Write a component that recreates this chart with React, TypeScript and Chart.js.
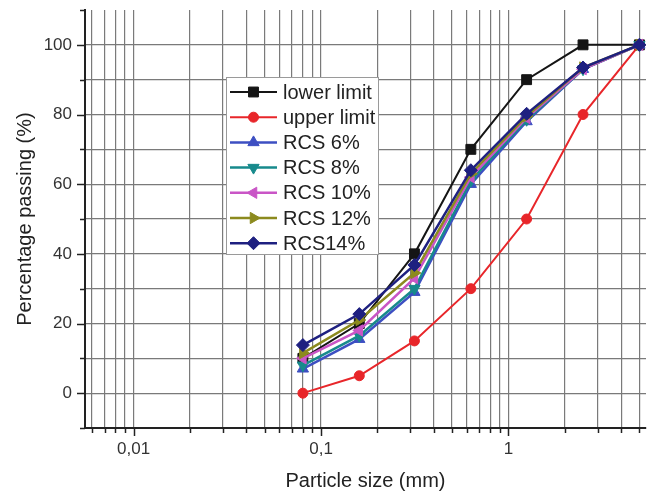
import React, { useEffect, useRef } from 'react';
import { Chart, registerables } from 'chart.js';

Chart.register(...registerables);

// Sieve sizes (mm)
const sizes = [0.08, 0.16, 0.315, 0.63, 1.25, 2.5, 5];

// Percentage passing for each series
const lowerLimit = [10, 20, 40, 70, 90, 100, 100];
const upperLimit = [0, 5, 15, 30, 50, 80, 100];
const rcs6 = [7, 15.5, 29, 60, 78, 93, 100];
const rcs8 = [8, 16.5, 30, 61, 78.5, 93, 100];
const rcs10 = [10, 18, 33, 62, 79, 93, 100];
const rcs12 = [11.5, 21, 34.5, 63, 79.5, 93.5, 100];
const rcs14 = [13.8, 22.7, 36.8, 64, 80.2, 93.5, 100];

const seriesNames = ['lower limit', 'upper limit', 'RCS 6%', 'RCS 8%', 'RCS 10%', 'RCS 12%', 'RCS14%'];
const seriesValues = [lowerLimit, upperLimit, rcs6, rcs8, rcs10, rcs12, rcs14];

// Tick positions / labels
const xTickValues = [
  0.006, 0.007, 0.008, 0.009,
  0.01, 0.02, 0.03, 0.04, 0.05, 0.06, 0.07, 0.08, 0.09,
  0.1, 0.2, 0.3, 0.4, 0.5, 0.6, 0.7, 0.8, 0.9,
  1, 2, 3, 4, 5,
];
const xMajorLabels: [number, string][] = [[0.01, '0,01'], [0.1, '0,1'], [1, '1']];
const yTickValues = [-10, 0, 10, 20, 30, 40, 50, 60, 70, 80, 90, 100, 110];
const yLabelValues = [0, 20, 40, 60, 80, 100];

const xTitle = 'Particle size (mm)';
const yTitle = 'Percentage passing (%)';

// Styles
const colors = ['#151515', '#e8262a', '#3d4fc2', '#178a8c', '#c955c6', '#8c8a1e', '#1e2080'];
const pointStyles = ['rect', 'circle', 'triangle', 'triangle', 'triangle', 'triangle', 'rectRot'];
const pointRotations = [0, 0, 0, 180, 270, 90, 0];
const pointRadii = [7, 5, 6.5, 6.5, 6.5, 6.5, 6.5];
const lineWidths = [2, 2, 2.5, 2.5, 2.5, 2.5, 2.5];
const GRID = '#7a7a7a';

const FONT = '"Liberation Sans", Arial, sans-serif';

function isMajorX(v: number) {
  const l = Math.log10(v);
  return Math.abs(l - Math.round(l)) < 1e-9;
}

function drawMarker(ctx: CanvasRenderingContext2D, style: string, rotDeg: number, x: number, y: number, r: number) {
  ctx.beginPath();
  if (style === 'rect') {
    const h = r * Math.SQRT1_2;
    ctx.rect(x - h, y - h, 2 * h, 2 * h);
  } else if (style === 'circle') {
    ctx.arc(x, y, r, 0, Math.PI * 2);
  } else if (style === 'rectRot') {
    ctx.moveTo(x, y - r);
    ctx.lineTo(x + r, y);
    ctx.lineTo(x, y + r);
    ctx.lineTo(x - r, y);
    ctx.closePath();
  } else {
    let rad = (rotDeg * Math.PI) / 180;
    ctx.moveTo(x + Math.sin(rad) * r, y - Math.cos(rad) * r);
    rad += (2 * Math.PI) / 3;
    ctx.lineTo(x + Math.sin(rad) * r, y - Math.cos(rad) * r);
    rad += (2 * Math.PI) / 3;
    ctx.lineTo(x + Math.sin(rad) * r, y - Math.cos(rad) * r);
    ctx.closePath();
  }
  ctx.fill();
  ctx.stroke();
}

const decorPlugin = {
  id: 'decor',
  afterDraw(chart: any) {
    const ctx: CanvasRenderingContext2D = chart.ctx;
    const xs = chart.scales.x;
    const ys = chart.scales.y;
    const area = chart.chartArea;
    ctx.save();
    // tick marks
    ctx.strokeStyle = '#222';
    ctx.lineWidth = 1.5;
    xTickValues.forEach((v) => {
      const px = Math.round(xs.getPixelForValue(v)) + 0.5;
      ctx.beginPath();
      ctx.moveTo(px, area.bottom);
      ctx.lineTo(px, area.bottom + (isMajorX(v) ? 8 : 5));
      ctx.stroke();
    });
    yTickValues.forEach((v) => {
      const py = Math.round(ys.getPixelForValue(v)) + 0.5;
      ctx.beginPath();
      ctx.moveTo(area.left, py);
      ctx.lineTo(area.left - (v % 20 === 0 ? 8 : 5), py);
      ctx.stroke();
    });

    // legend box
    const bx = 226, by = 77, bw = 152, bh = 177;
    ctx.fillStyle = '#ffffff';
    ctx.fillRect(bx, by, bw, bh);
    ctx.strokeStyle = '#9a9a9a';
    ctx.lineWidth = 1;
    ctx.strokeRect(bx + 0.5, by + 0.5, bw, bh);
    seriesNames.forEach((name, i) => {
      const cy = 92 + i * 25.2;
      ctx.strokeStyle = colors[i];
      ctx.fillStyle = colors[i];
      ctx.lineWidth = lineWidths[i];
      ctx.beginPath();
      ctx.moveTo(230, cy);
      ctx.lineTo(277, cy);
      ctx.stroke();
      ctx.lineWidth = 1;
      drawMarker(ctx, pointStyles[i], pointRotations[i], 253.5, cy, pointRadii[i]);
      ctx.fillStyle = '#222';
      ctx.font = `20px ${FONT}`;
      ctx.textAlign = 'left';
      ctx.textBaseline = 'middle';
      ctx.fillText(name, 283, cy + 1);
    });
    ctx.restore();
  },
};

export default function App() {
  const canvasRef = useRef<HTMLCanvasElement | null>(null);

  useEffect(() => {
    if (!canvasRef.current) return;
    const datasets = seriesValues.map((vals, i) => ({
      label: seriesNames[i],
      data: sizes.map((x, j) => ({ x, y: vals[j] })),
      borderColor: colors[i],
      backgroundColor: colors[i],
      pointBackgroundColor: colors[i],
      pointBorderColor: colors[i],
      pointStyle: pointStyles[i] as any,
      rotation: pointRotations[i],
      pointRadius: pointRadii[i],
      pointBorderWidth: 1,
      borderWidth: lineWidths[i],
      tension: 0,
      order: seriesNames.length - 1 - i,
    }));

    const chart = new Chart(canvasRef.current, {
      type: 'line',
      data: { datasets },
      options: {
        animation: false,
        responsive: false,
        devicePixelRatio: 1,
        layout: { padding: { top: 10, right: 6, left: 0, bottom: 0 } },
        plugins: { legend: { display: false }, tooltip: { enabled: false } },
        scales: {
          x: {
            type: 'logarithmic',
            min: 0.0055,
            max: 5.42,
            afterBuildTicks: (s: any) => {
              s.ticks = xTickValues.map((v) => ({ value: v }));
            },
            afterFit: (s: any) => {
              s.height = 68;
              s.paddingLeft = 0;
              s.paddingRight = 0;
            },
            ticks: {
              autoSkip: false,
              maxRotation: 0,
              minRotation: 0,
              padding: 11,
              color: '#333',
              font: { size: 17, family: FONT },
              callback: (v: any) => {
                const m = xMajorLabels.find((p) => Math.abs(p[0] - Number(v)) < 1e-9);
                return m ? m[1] : '';
              },
            },
            grid: { color: GRID, lineWidth: 1.2, drawTicks: false },
            border: { display: true, color: '#222', width: 2 },
            title: {
              display: true,
              text: xTitle,
              color: '#222',
              font: { size: 20, family: FONT },
              padding: { top: 0, bottom: 3 },
            },
          },
          y: {
            type: 'linear',
            min: -10,
            max: 110,
            afterBuildTicks: (s: any) => {
              s.ticks = yTickValues.map((v) => ({ value: v }));
            },
            afterFit: (s: any) => {
              s.width = 85;
              s.paddingTop = 0;
              s.paddingBottom = 0;
            },
            ticks: {
              autoSkip: false,
              padding: 13,
              color: '#333',
              font: { size: 17, family: FONT },
              callback: (v: any) => (yLabelValues.includes(Number(v)) ? String(v) : ''),
            },
            grid: {
              drawTicks: false,
              lineWidth: 1.2,
              color: (c: any) =>
                c.tick && (c.tick.value < 0 || c.tick.value > 100) ? 'rgba(0,0,0,0)' : GRID,
            },
            border: { display: true, color: '#222', width: 2 },
            title: {
              display: true,
              text: yTitle,
              color: '#222',
              font: { size: 20, family: FONT },
              padding: { top: 13, bottom: 0 },
            },
          },
        },
      },
      plugins: [decorPlugin],
    });
    return () => chart.destroy();
  }, []);

  return (
    <div style={{ position: 'fixed', left: 0, top: 0, width: 654, height: 496, background: '#fff' }}>
      <canvas ref={canvasRef} width={654} height={496} />
    </div>
  );
}
